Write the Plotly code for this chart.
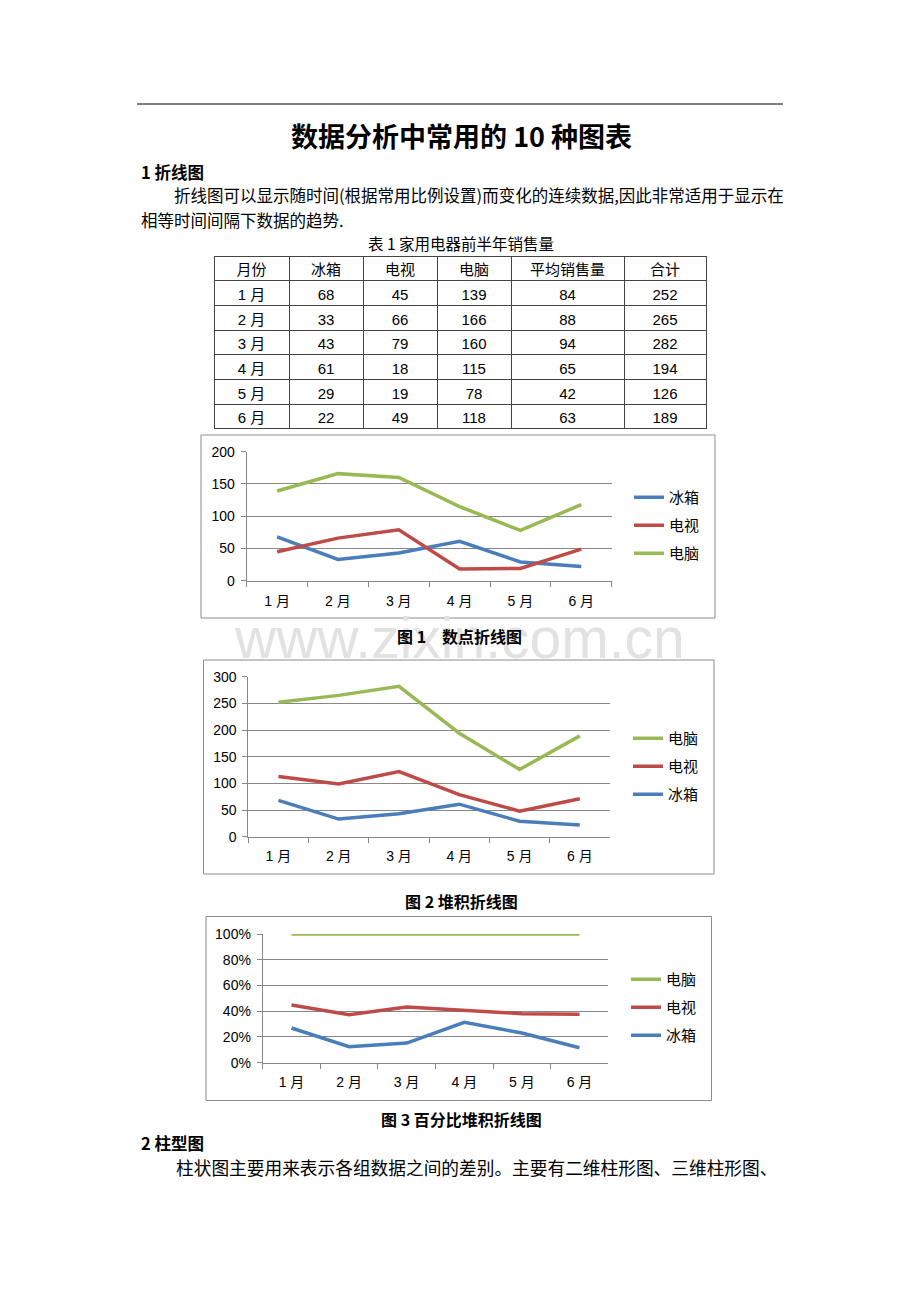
import plotly.graph_objects as go

W, H = 920, 1302


def px(x):
    return x / W


def py(y):
    return 1 - y / H


# ---------------- data ----------------
months = ["1 月", "2 月", "3 月", "4 月", "5 月", "6 月"]
fridge = [68, 33, 43, 61, 29, 22]
tv = [45, 66, 79, 18, 19, 49]
pc = [139, 166, 160, 115, 78, 118]
avg_sales = [84, 88, 94, 65, 42, 63]
total = [252, 265, 282, 194, 126, 189]
table_header = ["月份", "冰箱", "电视", "电脑", "平均销售量", "合计"]
series_names = ["冰箱", "电视", "电脑"]
y1_ticks = [0, 50, 100, 150, 200]
y2_ticks = [0, 50, 100, 150, 200, 250, 300]
y3_ticks = [0, 20, 40, 60, 80, 100]
y3_labels = ["0%", "20%", "40%", "60%", "80%", "100%"]

colors = {"冰箱": "#4A7EBB", "电视": "#BE4B48", "电脑": "#98B954"}
CJK = "Noto Sans CJK SC"
NUM = "Liberation Sans, Noto Sans CJK SC"
GRID = "#878787"

fig = go.Figure()

# ---------------- table ----------------
fig.add_trace(go.Table(
    domain=dict(x=[px(214), px(706)], y=[py(431), py(256)]),
    columnwidth=[75, 74, 74, 74, 113, 82],
    header=dict(values=table_header, height=24.7, align="center",
                font=dict(family=CJK, size=15, color="#000"),
                line=dict(color="#444", width=1), fill_color="white"),
    cells=dict(values=[months, fridge, tv, pc, avg_sales, total], height=24.7,
               align="center", font=dict(family=NUM, size=15, color="#000"),
               line=dict(color="#444", width=1), fill_color="white"),
))

# ---------------- chart 1: plain lines ----------------
for rank, (name, vals) in enumerate(zip(series_names, [fridge, tv, pc])):
    fig.add_trace(go.Scatter(
        x=months, y=vals, name=name, mode="lines",
        line=dict(color=colors[name], width=3.5),
        xaxis="x", yaxis="y", legend="legend", legendgroup="c1" + name,
        legendrank=rank + 1, hoverinfo="skip"))

# ---------------- chart 2: stacked lines ----------------
for rank, (name, vals) in enumerate(zip(series_names, [fridge, tv, pc])):
    fig.add_trace(go.Scatter(
        x=months, y=vals, name=name, mode="lines", stackgroup="s2", fill="none",
        line=dict(color=colors[name], width=3.5),
        xaxis="x2", yaxis="y2", legend="legend2", legendgroup="c2" + name,
        legendrank=3 - rank, hoverinfo="skip"))

# ---------------- chart 3: percent stacked lines ----------------
for rank, (name, vals) in enumerate(zip(series_names, [fridge, tv, pc])):
    fig.add_trace(go.Scatter(
        x=months, y=vals, name=name, mode="lines", stackgroup="s3", fill="none",
        groupnorm="percent",
        line=dict(color=colors[name], width=3.5),
        xaxis="x3", yaxis="y3", legend="legend3", legendgroup="c3" + name,
        legendrank=3 - rank, hoverinfo="skip"))


def xax(x0, x1, anchor, standoff):
    return dict(domain=[px(x0), px(x1)], type="category", range=[-0.5, 5.5],
                anchor=anchor, showline=True, linecolor=GRID, linewidth=1,
                ticks="outside", ticklen=5, tickcolor=GRID, tickson="boundaries",
                showgrid=False, zeroline=False, ticklabelstandoff=standoff,
                automargin=False,
                tickfont=dict(family=NUM, size=14, color="#000"), fixedrange=True)


def yax(y_top, y_bot, rng, tickvals, anchor, ticktext=None):
    d = dict(domain=[py(y_bot), py(y_top)], range=rng, tickvals=tickvals,
             anchor=anchor, showline=True, linecolor=GRID, linewidth=1,
             ticks="outside", ticklen=5, tickcolor=GRID, showgrid=True,
             gridcolor=GRID, gridwidth=1, zeroline=False,
             ticklabelstandoff=3, automargin=False,
             tickfont=dict(family=NUM, size=14, color="#000"), fixedrange=True)
    if ticktext is not None:
        d["ticktext"] = ticktext
    return d


def leg(x, y):
    return dict(x=px(x), y=py(y), xanchor="left", yanchor="top",
                bgcolor="rgba(0,0,0,0)", borderwidth=0, tracegroupgap=5.5,
                traceorder="grouped", itemwidth=30,
                font=dict(family=CJK, size=15, color="#000"))


# ---------------- annotations ----------------
anns = []


def text(t, x, y, size, bold=False, xanchor="left", color="#000", family=CJK):
    anns.append(dict(text=("<b>%s</b>" % t) if bold else t, x=px(x), y=py(y),
                     xref="paper", yref="paper", xanchor=xanchor, yanchor="middle",
                     showarrow=False, font=dict(family=family, size=size, color=color)))


text("www.zixin.com.cn", 459, 638, 57, xanchor="center", color="#E2E2E2",
     family="Liberation Sans")
text("数据分析中常用的 10 种图表", 461, 136, 27, bold=True, xanchor="center")
text("1 折线图", 139, 172, 16.5, bold=True)
text("折线图可以显示随时间(根据常用比例设置)而变化的连续数据,因此非常适用于显示在",
     172, 195, 16.5)
text("相等时间间隔下数据的趋势.", 139, 220, 16.5)
text("表 1 家用电器前半年销售量", 461, 243, 15.5, xanchor="center")
text("图 1　数点折线图", 459, 636, 16, bold=True, xanchor="center")
text("图 2 堆积折线图", 461, 901, 16, bold=True, xanchor="center")
text("图 3 百分比堆积折线图", 461, 1119, 16, bold=True, xanchor="center")
text("2 柱型图", 139, 1143, 16.5, bold=True)
text("柱状图主要用来表示各组数据之间的差别。主要有二维柱形图、三维柱形图、",
     174, 1167, 17.7)

# ---------------- shapes ----------------
shapes = [
    dict(type="line", xref="paper", yref="paper", x0=px(137), x1=px(783),
         y0=py(104), y1=py(104), line=dict(color="#000", width=1)),
]
for (x0, y0, x1, y1) in [(201, 435, 715, 618), (203.5, 660, 714, 874),
                         (206, 916.5, 711.5, 1100.5)]:
    shapes.append(dict(type="rect", xref="paper", yref="paper", x0=px(x0), x1=px(x1),
                       y0=py(y0), y1=py(y1), line=dict(color="#8C8C8C", width=1),
                       fillcolor="rgba(0,0,0,0)", layer="below"))

fig.update_layout(
    width=W, height=H, autosize=False,
    margin=dict(l=0, r=0, t=0, b=0, pad=0, autoexpand=False),
    paper_bgcolor="white", plot_bgcolor="rgba(0,0,0,0)",
    showlegend=True,
    xaxis=xax(246.7, 611.7, "y", 7),
    yaxis=yax(451.7, 580.7, [0, 200], y1_ticks, "x"),
    xaxis2=xax(248.3, 610, "y2", 6),
    yaxis2=yax(676.7, 836.7, [0, 300], y2_ticks, "x2"),
    xaxis3=xax(262.7, 608.3, "y3", 6),
    yaxis3=yax(934, 1062.7, [0, 100], y3_ticks, "x3", ticktext=y3_labels),
    legend=leg(629, 481),
    legend2=leg(628, 722),
    legend3=leg(626, 963),
    annotations=anns,
    shapes=shapes,
)

fig.write_html(
    "out.html",
    post_script="document.body.style.margin='0';document.body.style.overflow='hidden';",
)
